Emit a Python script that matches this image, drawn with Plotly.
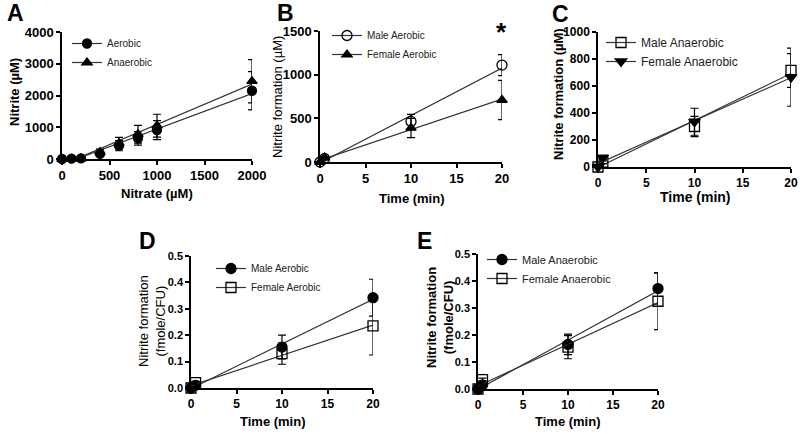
import numpy as np
import plotly.graph_objects as go

W, H = 800, 434

# ---- data ----
nitrate = [0, 100, 200, 400, 600, 800, 1000, 2000]
a_aerobic = [0, 10, 20, 160, 420, 650, 910, 2150]
a_aerobic_err = [20, 20, 20, 60, 160, 210, 300, 600]
a_anaerobic = [0, 5, 15, 220, 500, 780, 1050, 2450]
a_anaerobic_err = [20, 20, 20, 90, 180, 280, 360, 680]

time_min = [0, 0.5, 10, 20]
b_male = [0, 40, 465, 1110]
b_male_err = [0, 15, 80, 120]
b_female = [0, 50, 390, 710]
b_female_err = [0, 15, 110, 225]

c_male = [0, 35, 300, 715]
c_male_err = [0, 10, 75, 125]
c_female = [0, 70, 335, 665]
c_female_err = [0, 15, 100, 215]

d_male = [0, 0.01, 0.155, 0.342]
d_male_err = [0, 0.005, 0.045, 0.07]
d_female = [0, 0.02, 0.13, 0.235]
d_female_err = [0, 0.005, 0.04, 0.11]

e_male = [0, 0.015, 0.165, 0.372]
e_male_err = [0, 0.005, 0.038, 0.058]
e_female = [0, 0.035, 0.155, 0.325]
e_female_err = [0, 0.005, 0.043, 0.105]

FONT = "Liberation Sans, Arial, sans-serif"


def px(x):
    return x / W


def py(y):
    return 1 - y / H


fig = go.Figure()


def add_series(n, x, y, err, name, symbol, size, legend):
    xa, ya = "x" + str(n), "y" + str(n)
    # regression line like the prism plot
    k, b = np.polyfit(x, y, 1)
    xs = np.array([min(x), max(x)])
    fig.add_trace(go.Scatter(x=xs, y=k * xs + b, mode="lines", xaxis=xa, yaxis=ya,
                             line=dict(color="#333", width=1.2), showlegend=False,
                             hoverinfo="skip"))
    fig.add_trace(go.Scatter(x=x, y=y, mode="markers", xaxis=xa, yaxis=ya, name=name,
                             showlegend=False, cliponaxis=False,
                             marker=dict(symbol=symbol, size=size, color="black",
                                         line=dict(color="black", width=1.3)),
                             error_y=dict(type="data", array=err, color="black",
                                          thickness=1.2, width=4)))
    # legend entry (line through marker)
    fig.add_trace(go.Scatter(x=[None], y=[None], mode="lines+markers", xaxis=xa, yaxis=ya,
                             name=name, legend=legend,
                             marker=dict(symbol=symbol, size=size, color="black",
                                         line=dict(color="black", width=1.3)),
                             line=dict(color="#333", width=1.2)))


add_series(1, nitrate, a_aerobic, a_aerobic_err, "Aerobic", "circle", 9, "legend")
add_series(1, nitrate, a_anaerobic, a_anaerobic_err, "Anaerobic", "triangle-up", 9, "legend")
add_series(2, time_min, b_male, b_male_err, "Male Aerobic", "circle-open", 10, "legend2")
add_series(2, time_min, b_female, b_female_err, "Female Aerobic", "triangle-up", 9, "legend2")
add_series(3, time_min, c_male, c_male_err, "Male Anaerobic", "square-open", 10, "legend3")
add_series(3, time_min, c_female, c_female_err, "Female Anaerobic", "triangle-down", 10, "legend3")
add_series(4, time_min, d_male, d_male_err, "Male Aerobic", "circle", 10, "legend4")
add_series(4, time_min, d_female, d_female_err, "Female Aerobic", "square-open", 10, "legend4")
add_series(5, time_min, e_male, e_male_err, "Male Anaerobic", "circle", 10, "legend5")
add_series(5, time_min, e_female, e_female_err, "Female Anaerobic", "square-open", 10, "legend5")


def axis(dom, rng, dtick, tsize, anchor, fmt=None):
    d = dict(domain=dom, range=rng, dtick=dtick, tick0=0, anchor=anchor,
             showgrid=False, zeroline=False, showline=True, linecolor="black",
             linewidth=1.5, ticks="outside", ticklen=4, tickwidth=1.5,
             tickcolor="black", automargin=False,
             tickfont=dict(family=FONT, size=tsize, color="black", weight="bold"))
    if fmt:
        d["tickformat"] = fmt
    return d


# panel boxes in pixels: (left, right, top, bottom)
boxes = {1: (62, 252, 32, 159), 2: (320, 502, 31, 162), 3: (598, 791, 32, 167),
         4: (191, 373, 256, 388), 5: (478, 658, 254, 389)}

layout = dict(width=W, height=H, margin=dict(l=0, r=0, t=0, b=0, autoexpand=False),
              paper_bgcolor="white", plot_bgcolor="white")
xr = {1: ([0, 2000], 500, 13), 2: ([0, 20], 5, 13), 3: ([0, 20], 5, 12),
      4: ([0, 20], 5, 12), 5: ([0, 20], 5, 12)}
yr = {1: ([0, 4000], 1000, 13, None), 2: ([0, 1500], 500, 13, None),
      3: ([0, 1000], 200, 12, None), 4: ([0, 0.5], 0.1, 11, ".1f"),
      5: ([0, 0.5], 0.1, 11, ".1f")}
for n, (l, r, t, b) in boxes.items():
    sfx = "" if n == 1 else str(n)
    layout["xaxis" + sfx] = axis([px(l), px(r)], xr[n][0], xr[n][1], xr[n][2], "y" + str(n))
    layout["yaxis" + sfx] = axis([py(b), py(t)], yr[n][0], yr[n][1], yr[n][2], "x" + str(n),
                                 yr[n][3])

# legends: (x of symbol area left, y of top, font size)
leg = {"legend": (67, 29, 10), "legend2": (327, 21, 10), "legend3": (601, 28, 12),
       "legend4": (211, 254, 10), "legend5": (482, 245, 11)}
for key, (lx, ly, fs) in leg.items():
    layout[key] = dict(x=px(lx), y=py(ly), xanchor="left", yanchor="top",
                       bgcolor="rgba(0,0,0,0)", font=dict(family=FONT, size=fs, color="#222"),
                       itemwidth=30, tracegroupgap=0)

fig.update_layout(**layout)

# axis titles and panel letters
texts = [
    ("Nitrite (µM)", 15, 92, 13, -90, True),
    ("Nitrate (µM)", 157, 194, 13, 0, True),
    ("Nitrite formation (µM)", 278, 97, 13, -90, False),
    ("Time (min)", 412, 198, 13, 0, True),
    ("Nitrite formation (µM)", 558, 94, 13, -90, True),
    ("Time (min)", 695, 197, 14, 0, True),
    ("Nitrite formation<br>(fmole/CFU)", 152, 321, 13, -90, False),
    ("Time (min)", 273, 421, 13, 0, True),
    ("Nitrite formation<br>(fmole/CFU)", 440, 318, 13, -90, True),
    ("Time (min)", 568, 421, 13, 0, True),
    ("A", 15, 13, 23, 0, True),
    ("B", 285, 13, 23, 0, True),
    ("C", 560, 14, 23, 0, True),
    ("D", 147, 241, 23, 0, True),
    ("E", 424, 241, 23, 0, True),
    ("*", 502, 32, 26, 0, True),
]
for txt, x, y, fs, ang, bold in texts:
    fig.add_annotation(text=txt, x=px(x), y=py(y), xref="paper", yref="paper",
                       showarrow=False, textangle=ang, xanchor="center", yanchor="middle",
                       font=dict(family=FONT, size=fs, color="black",
                                 weight="bold" if bold else "normal"))

page_css = ("document.body.style.margin='0';document.body.style.padding='0';"
            "document.body.style.overflow='hidden';"
            "document.documentElement.style.overflow='hidden';")
fig.write_html("out.html", config={"displayModeBar": False}, post_script=page_css)
